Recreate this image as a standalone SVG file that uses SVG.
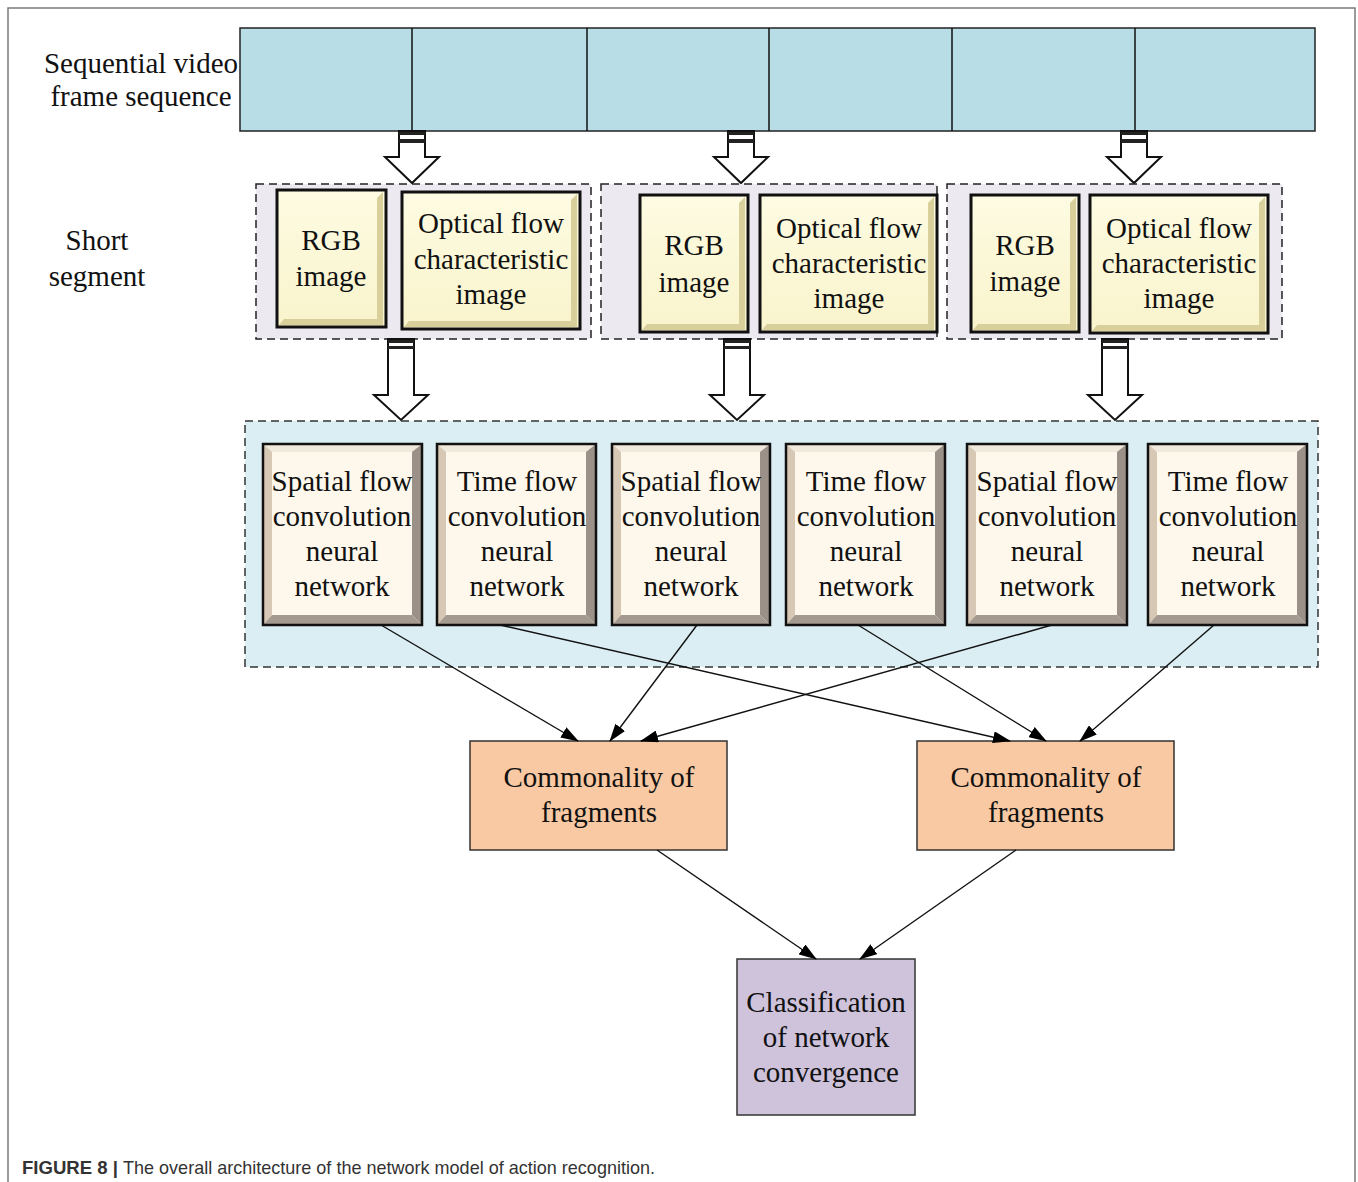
<svg xmlns="http://www.w3.org/2000/svg" width="1358" height="1182" viewBox="0 0 1358 1182">
  <defs>
    <marker id="arrow" viewBox="0 0 18 12" markerWidth="18" markerHeight="12" refX="17" refY="6" orient="auto" markerUnits="userSpaceOnUse">
      <path d="M0,0 L18,6 L0,12 z" fill="#000"/>
    </marker>
    <linearGradient id="yellowFace" x1="0" y1="0" x2="0" y2="1">
      <stop offset="0" stop-color="#fdfbe2"/>
      <stop offset="1" stop-color="#f9f4cc"/>
    </linearGradient>
  </defs>
  <style>
    .serif { font-family: "Liberation Serif", "Times New Roman", serif; font-size: 29px; fill: #111; text-anchor: middle; }
    .frame { stroke: #7a7a7a; stroke-width: 1.5; fill: none; }
    .bar { fill: #b9dde6; stroke: #222; stroke-width: 1.5; }
    .divider { stroke: #111; stroke-width: 1.5; }
    .seg { fill: #ece9f1; stroke: #222; stroke-width: 1.5; stroke-dasharray: 8 5; }
    .net { fill: #dbeef3; stroke: #333; stroke-width: 1.5; stroke-dasharray: 8 5; }
    .ybox { fill: url(#yellowFace); stroke: #111; stroke-width: 3; }
    .yshade { fill: #d9cf9a; }
    .cface { fill: #fdf8eb; }
    .ctop { fill: #f1e9dc; }
    .cleft { fill: #d7c8b6; }
    .cright { fill: #9b9188; }
    .cbottom { fill: #a49a90; }
    .cborder { fill: none; stroke: #111; stroke-width: 2.5; }
    .blk { fill: #fff; stroke: #111; stroke-width: 2; stroke-linejoin: miter; }
    .stripe { fill: #222; }
    .common { fill: #f8c9a2; stroke: #333; stroke-width: 1.5; }
    .classify { fill: #cfc3dc; stroke: #333; stroke-width: 1.5; }
    .edge { stroke: #111; stroke-width: 1.4; fill: none; marker-end: url(#arrow); }
    .cap { font-family: "Liberation Sans", Arial, sans-serif; font-size: 19px; fill: #333; }
  </style>

  <rect width="1358" height="1182" fill="#fff"/>

  <!-- figure frame -->
  <path class="frame" d="M8,1182 L8,8 L1355,8 L1355,1182"/>

  <!-- row labels -->
  <g id="label-frames">
    <text class="serif" x="141" y="73">Sequential video</text>
    <text class="serif" x="141" y="106">frame sequence</text>
  </g>
  <g id="label-segment">
    <text class="serif" x="97" y="250">Short</text>
    <text class="serif" x="97" y="286">segment</text>
  </g>

  <!-- video frame strip -->
  <g id="frame-strip">
    <rect class="bar" x="240" y="28" width="1075" height="103"/>
    <line class="divider" x1="412" y1="28" x2="412" y2="131"/>
    <line class="divider" x1="587" y1="28" x2="587" y2="131"/>
    <line class="divider" x1="769" y1="28" x2="769" y2="131"/>
    <line class="divider" x1="952" y1="28" x2="952" y2="131"/>
    <line class="divider" x1="1135" y1="28" x2="1135" y2="131"/>
  </g>

  <!-- block arrows from the strip to the segments -->
  <g id="split-arrows">
    <path class="blk" d="M399,131 L425,131 L425,157 L439,157 L412,183 L385,157 L399,157 Z"/>
    <rect class="stripe" x="399" y="132" width="26" height="3"/>
    <rect class="stripe" x="399" y="139" width="26" height="4"/>
    <path class="blk" d="M728,131 L754,131 L754,157 L768,157 L741,183 L714,157 L728,157 Z"/>
    <rect class="stripe" x="728" y="132" width="26" height="3"/>
    <rect class="stripe" x="728" y="139" width="26" height="4"/>
    <path class="blk" d="M1121,131 L1147,131 L1147,157 L1161,157 L1134,183 L1107,157 L1121,157 Z"/>
    <rect class="stripe" x="1121" y="132" width="26" height="3"/>
    <rect class="stripe" x="1121" y="139" width="26" height="4"/>
  </g>

  <!-- short segment 1 -->
  <g id="segment-1">
    <rect class="seg" x="256" y="184" width="335" height="155"/>
    <rect class="ybox" x="277" y="190" width="109" height="137"/>
    <path class="yshade" d="M383,192 L383,325 L279,325 L284,319 L377,319 L377,198 Z"/>
    <text class="serif" x="331" y="250">RGB</text>
    <text class="serif" x="331" y="286">image</text>
    <rect class="ybox" x="402" y="192" width="178" height="137"/>
    <path class="yshade" d="M577,194 L577,327 L404,327 L409,321 L571,321 L571,200 Z"/>
    <text class="serif" x="491" y="233">Optical flow</text>
    <text class="serif" x="491" y="269">characteristic</text>
    <text class="serif" x="491" y="304">image</text>
  </g>

  <!-- short segment 2 -->
  <g id="segment-2">
    <rect class="seg" x="601" y="184" width="336" height="155"/>
    <rect class="ybox" x="640" y="195" width="108" height="137"/>
    <path class="yshade" d="M745,197 L745,330 L642,330 L647,324 L739,324 L739,203 Z"/>
    <text class="serif" x="694" y="255">RGB</text>
    <text class="serif" x="694" y="292">image</text>
    <rect class="ybox" x="760" y="195" width="177" height="137"/>
    <path class="yshade" d="M934,197 L934,330 L762,330 L767,324 L928,324 L928,203 Z"/>
    <text class="serif" x="849" y="238">Optical flow</text>
    <text class="serif" x="849" y="273">characteristic</text>
    <text class="serif" x="849" y="308">image</text>
  </g>

  <!-- short segment 3 -->
  <g id="segment-3">
    <rect class="seg" x="947" y="184" width="335" height="155"/>
    <rect class="ybox" x="971" y="195" width="108" height="137"/>
    <path class="yshade" d="M1076,197 L1076,330 L973,330 L978,324 L1070,324 L1070,203 Z"/>
    <text class="serif" x="1025" y="255">RGB</text>
    <text class="serif" x="1025" y="291">image</text>
    <rect class="ybox" x="1090" y="195" width="178" height="138"/>
    <path class="yshade" d="M1265,197 L1265,331 L1092,331 L1097,325 L1259,325 L1259,203 Z"/>
    <text class="serif" x="1179" y="238">Optical flow</text>
    <text class="serif" x="1179" y="273">characteristic</text>
    <text class="serif" x="1179" y="308">image</text>
  </g>

  <!-- block arrows from the segments to the networks -->
  <g id="feed-arrows">
    <path class="blk" d="M388,339 L414,339 L414,395 L428,395 L401,420 L374,395 L388,395 Z"/>
    <rect class="stripe" x="388" y="340" width="26" height="3"/>
    <rect class="stripe" x="388" y="346" width="26" height="3"/>
    <path class="blk" d="M724,339 L750,339 L750,395 L764,395 L737,420 L710,395 L724,395 Z"/>
    <rect class="stripe" x="724" y="340" width="26" height="3"/>
    <rect class="stripe" x="724" y="346" width="26" height="3"/>
    <path class="blk" d="M1102,339 L1128,339 L1128,395 L1142,395 L1115,420 L1088,395 L1102,395 Z"/>
    <rect class="stripe" x="1102" y="340" width="26" height="3"/>
    <rect class="stripe" x="1102" y="346" width="26" height="3"/>
  </g>

  <!-- two-stream network panel -->
  <g id="network-panel">
    <rect class="net" x="245" y="421" width="1073" height="246"/>
  </g>

  <g id="spatial-1">
    <rect class="cface" x="263" y="444" width="159" height="181"/>
    <path class="ctop" d="M263,444 L422,444 L413,452 L272,452 Z"/>
    <path class="cleft" d="M263,444 L272,452 L272,615 L263,625 Z"/>
    <path class="cright" d="M422,444 L422,625 L412,615 L412,452 Z"/>
    <path class="cbottom" d="M263,625 L272,615 L412,615 L422,625 Z"/>
    <rect class="cborder" x="263" y="444" width="159" height="181"/>
    <text class="serif" x="342" y="491">Spatial flow</text>
    <text class="serif" x="342" y="526">convolution</text>
    <text class="serif" x="342" y="561">neural</text>
    <text class="serif" x="342" y="596">network</text>
  </g>

  <g id="temporal-1">
    <rect class="cface" x="437" y="444" width="159" height="181"/>
    <path class="ctop" d="M437,444 L596,444 L587,452 L446,452 Z"/>
    <path class="cleft" d="M437,444 L446,452 L446,615 L437,625 Z"/>
    <path class="cright" d="M596,444 L596,625 L586,615 L586,452 Z"/>
    <path class="cbottom" d="M437,625 L446,615 L586,615 L596,625 Z"/>
    <rect class="cborder" x="437" y="444" width="159" height="181"/>
    <text class="serif" x="517" y="491">Time flow</text>
    <text class="serif" x="517" y="526">convolution</text>
    <text class="serif" x="517" y="561">neural</text>
    <text class="serif" x="517" y="596">network</text>
  </g>

  <g id="spatial-2">
    <rect class="cface" x="612" y="444" width="158" height="181"/>
    <path class="ctop" d="M612,444 L770,444 L761,452 L621,452 Z"/>
    <path class="cleft" d="M612,444 L621,452 L621,615 L612,625 Z"/>
    <path class="cright" d="M770,444 L770,625 L760,615 L760,452 Z"/>
    <path class="cbottom" d="M612,625 L621,615 L760,615 L770,625 Z"/>
    <rect class="cborder" x="612" y="444" width="158" height="181"/>
    <text class="serif" x="691" y="491">Spatial flow</text>
    <text class="serif" x="691" y="526">convolution</text>
    <text class="serif" x="691" y="561">neural</text>
    <text class="serif" x="691" y="596">network</text>
  </g>

  <g id="temporal-2">
    <rect class="cface" x="786" y="444" width="159" height="181"/>
    <path class="ctop" d="M786,444 L945,444 L936,452 L795,452 Z"/>
    <path class="cleft" d="M786,444 L795,452 L795,615 L786,625 Z"/>
    <path class="cright" d="M945,444 L945,625 L935,615 L935,452 Z"/>
    <path class="cbottom" d="M786,625 L795,615 L935,615 L945,625 Z"/>
    <rect class="cborder" x="786" y="444" width="159" height="181"/>
    <text class="serif" x="866" y="491">Time flow</text>
    <text class="serif" x="866" y="526">convolution</text>
    <text class="serif" x="866" y="561">neural</text>
    <text class="serif" x="866" y="596">network</text>
  </g>

  <g id="spatial-3">
    <rect class="cface" x="967" y="444" width="160" height="181"/>
    <path class="ctop" d="M967,444 L1127,444 L1118,452 L976,452 Z"/>
    <path class="cleft" d="M967,444 L976,452 L976,615 L967,625 Z"/>
    <path class="cright" d="M1127,444 L1127,625 L1117,615 L1117,452 Z"/>
    <path class="cbottom" d="M967,625 L976,615 L1117,615 L1127,625 Z"/>
    <rect class="cborder" x="967" y="444" width="160" height="181"/>
    <text class="serif" x="1047" y="491">Spatial flow</text>
    <text class="serif" x="1047" y="526">convolution</text>
    <text class="serif" x="1047" y="561">neural</text>
    <text class="serif" x="1047" y="596">network</text>
  </g>

  <g id="temporal-3">
    <rect class="cface" x="1148" y="444" width="159" height="181"/>
    <path class="ctop" d="M1148,444 L1307,444 L1298,452 L1157,452 Z"/>
    <path class="cleft" d="M1148,444 L1157,452 L1157,615 L1148,625 Z"/>
    <path class="cright" d="M1307,444 L1307,625 L1297,615 L1297,452 Z"/>
    <path class="cbottom" d="M1148,625 L1157,615 L1297,615 L1307,625 Z"/>
    <rect class="cborder" x="1148" y="444" width="159" height="181"/>
    <text class="serif" x="1228" y="491">Time flow</text>
    <text class="serif" x="1228" y="526">convolution</text>
    <text class="serif" x="1228" y="561">neural</text>
    <text class="serif" x="1228" y="596">network</text>
  </g>

  <!-- fusion and classification -->
  <g id="commonality-1">
    <rect class="common" x="470" y="741" width="257" height="109"/>
    <text class="serif" x="599" y="787">Commonality of</text>
    <text class="serif" x="599" y="822">fragments</text>
  </g>
  <g id="commonality-2">
    <rect class="common" x="917" y="741" width="257" height="109"/>
    <text class="serif" x="1046" y="787">Commonality of</text>
    <text class="serif" x="1046" y="822">fragments</text>
  </g>
  <g id="classification">
    <rect class="classify" x="737" y="959" width="178" height="156"/>
    <text class="serif" x="826" y="1012">Classification</text>
    <text class="serif" x="826" y="1047">of network</text>
    <text class="serif" x="826" y="1082">convergence</text>
  </g>

  <!-- connectors -->
  <g id="connectors">
    <line class="edge" x1="381" y1="625" x2="578" y2="741"/>
    <line class="edge" x1="500" y1="625" x2="1010" y2="741"/>
    <line class="edge" x1="697" y1="625" x2="610" y2="741"/>
    <line class="edge" x1="858" y1="625" x2="1046" y2="741"/>
    <line class="edge" x1="1052" y1="625" x2="641" y2="741"/>
    <line class="edge" x1="1214" y1="625" x2="1080" y2="741"/>
    <line class="edge" x1="657" y1="850" x2="816" y2="959"/>
    <line class="edge" x1="1016" y1="850" x2="860" y2="959"/>
  </g>

  <!-- caption -->
  <text class="cap" x="22" y="1174" font-weight="bold" fill="#222" textLength="96" lengthAdjust="spacingAndGlyphs">FIGURE 8 |</text>
  <text class="cap" x="123" y="1174" textLength="532" lengthAdjust="spacingAndGlyphs">The overall architecture of the network model of action recognition.</text>
</svg>
